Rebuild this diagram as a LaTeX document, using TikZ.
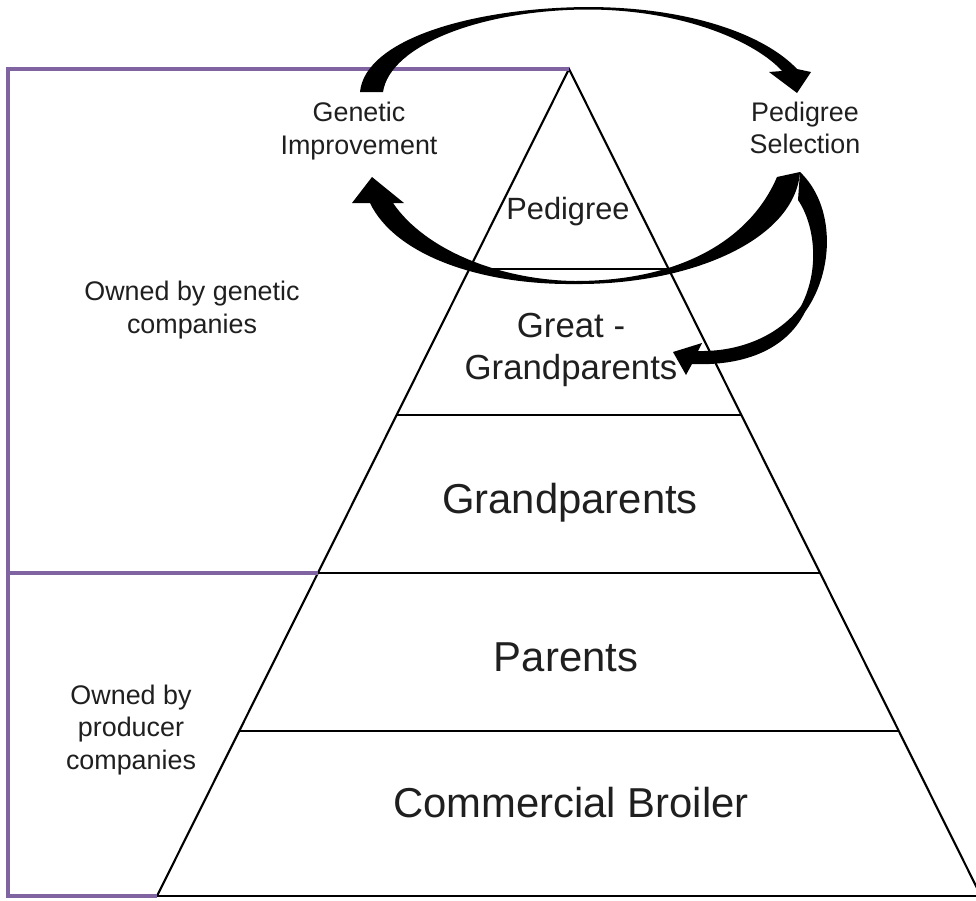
\documentclass[tikz,border=0pt]{standalone}
\usepackage{fontspec}
\setmainfont{Liberation Sans}
\definecolor{ownerline}{HTML}{8064A2}

\begin{document}
\begin{tikzpicture}[x=0.02cm, y=-0.02cm,
  every node/.style = {align=center, inner sep=0pt, text=black!88},
  tier/.style = {font=\fontsize{23.8}{28.5}\selectfont},
  note/.style = {font=\fontsize{15.3}{18.5}\selectfont},
  tierline/.style = {line width=1.2pt},
  bracket/.style = {draw=ownerline, line width=2.2pt},
  flow/.style = {fill=black}]
  \useasboundingbox (0,0) rectangle (976,900);
  \clip (0,0) rectangle (976,900);

  % pyramid
  \coordinate (apex) at (569,69);
  \coordinate (baseL) at (157,896);
  \coordinate (baseR) at (981,896);
  \draw[tierline] (baseL) -- (apex) -- (baseR);
  \draw[tierline] (baseL) -- (baseR);
  \foreach \y in {269,415,573,731}
    \draw[tierline] ({569-(\y-69)*0.498},\y) -- ({569+(\y-69)*0.498},\y);

  % ownership brackets
  \draw[bracket] (apex) -- (8,69) -- (8,896) -- (baseL);
  \draw[bracket] (8,573) -- ({569-(573-69)*0.498},573);

  % curved arrows
  \fill[flow] (360,92) .. controls (365,40) and (470,8) .. (587,7)
    .. controls (690,7) and (765,35) .. (797,69) -- (811,72) -- (797,93)
    -- (769,72) -- (782,71) .. controls (757,43) and (685,9.5) .. (587,9.5)
    .. controls (482,10) and (390,45) .. (383,92) -- cycle;
  \fill[flow] (372,177) -- (404,203) -- (393,203)
    .. controls (425,250) and (500,280) .. (575,281)
    .. controls (680,281) and (750,240) .. (777,177) -- (800,172)
    .. controls (795,240) and (690,285) .. (575,284)
    .. controls (480,285) and (395,255) .. (370,203) -- (352,203) -- cycle;
  \fill[flow] (800,172) .. controls (835,205) and (835,270) .. (805,312)
    .. controls (785,352) and (740,366) .. (692,364) -- (686,375)
    -- (673,352) -- (702,343) -- (698,351)
    .. controls (745,352) and (782,332) .. (801,306)
    .. controls (820,270) and (815,225) .. (798,200) -- cycle;

  % labels
  \node[font=\fontsize{17.5}{21}\selectfont] (pedigree) at (568,212) {Pedigree};
  \node[font=\fontsize{19.8}{23.8}\selectfont] (greatgp) at (571,350) {Great -\\Grandparents};
  \node[tier] (grandp) at (570,503) {Grandparents};
  \node[tier] (parents) at (566,657) {Parents};
  \node[tier] (broiler) at (571,803) {Commercial Broiler};
  \node[note] (improve) at (359,131) {Genetic\\Improvement};
  \node[note] (select) at (805,128) {Pedigree\\Selection};
  \node[note] (genco) at (192,310) {Owned by genetic\\companies};
  \node[note] (prodco) at (131,730) {Owned by\\producer\\companies};
\end{tikzpicture}
\end{document}
